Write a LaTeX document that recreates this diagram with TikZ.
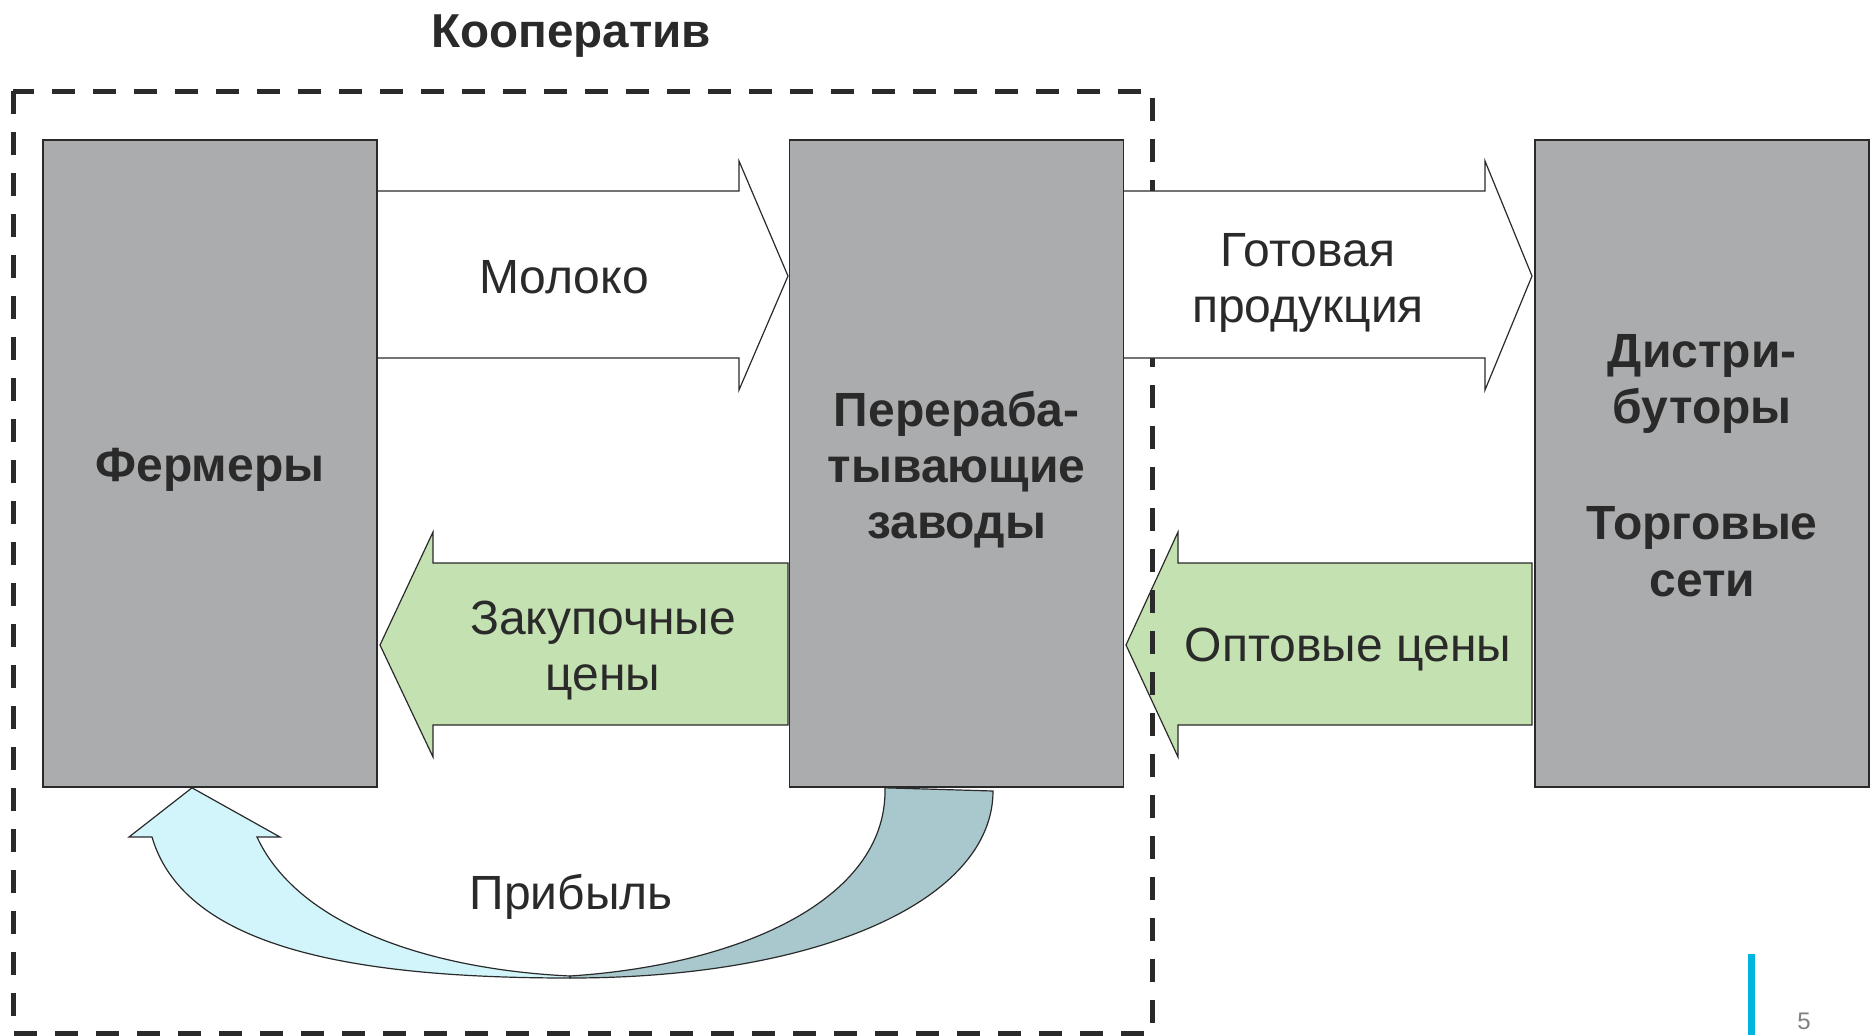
\documentclass[tikz,border=0pt]{standalone}
\usepackage{fontspec}
\setmainfont{Liberation Sans}
\usetikzlibrary{positioning,calc}

\definecolor{boxgray}{HTML}{ABACAE}
\definecolor{pricegreen}{HTML}{C4E1B1}
\definecolor{inkdark}{HTML}{2A2A2A}
\definecolor{profitcyan}{HTML}{D2F5FC}
\definecolor{profitteal}{HTML}{A9C8CD}
\definecolor{barblue}{HTML}{00B4E0}

\begin{document}
\begin{tikzpicture}[x=0.5pt,y=-0.5pt,
	block/.style={draw=inkdark,line width=0.8pt,fill=boxgray,minimum width=167pt,minimum height=323.5pt,inner sep=0pt},
	boxtext/.style={align=center,font=\fontsize{24}{28}\selectfont\bfseries,text=inkdark,yshift=-3pt},
	flow/.style={draw=inkdark,line width=0.6pt},
	lbl/.style={align=center,font=\fontsize{24}{28}\selectfont,text=inkdark},
	coopline/.style={draw=inkdark,line width=2.5pt,dash pattern=on 11.5pt off 9pt}]
	\useasboundingbox (0,0) rectangle (1870,1035);

	% price arrows (under the dashed frame)
	\coordinate (buytip) at (380,645);
	\coordinate (saletip) at (1126,645);
	\draw[flow,fill=pricegreen] (788,563) -- (433,563) -- (433,532) -- (buytip) -- (433,757) -- (433,725) -- (788,725) -- cycle;
	\draw[flow,fill=pricegreen] (1532,563) -- (1178,563) -- (1178,532) -- (saletip) -- (1178,757) -- (1178,725) -- (1532,725) -- cycle;

	% cooperative frame
	\draw[coopline] (13,91) rectangle (1152,1033);
	\node[font=\fontsize{23.8}{28}\selectfont\bfseries,text=inkdark,anchor=base] (coop) at (571,47) {Кооператив};

	% goods arrows
	\coordinate (milktip) at (788,276);
	\coordinate (goodstip) at (1532,276);
	\draw[flow,fill=white] (377,191) -- (739,191) -- (739,161) -- (milktip) -- (739,390) -- (739,358) -- (377,358);
	\draw[flow,fill=white] (1122,191) -- (1485,191) -- (1485,161) -- (goodstip) -- (1485,390) -- (1485,358) -- (1122,358);

	% boxes
	\node[block,label={[boxtext]center:Фермеры}] (farmers) at (210,463.5) {};
	\node[block,label={[boxtext]center:{Перераба-\\тывающие\\заводы}}] (plant) [right=205.5pt of farmers] {};
	\node[block,label={[boxtext,yshift=2pt]center:{Дистри-\\буторы\\[30pt]Торговые\\[0.5pt]сети}}] (retail) [right=205pt of plant] {};

	\node[lbl] (milk) at (564,277) {Молоко};
	\node[lbl] (goods) at (1308,283) {Готовая\\продукция};
	\node[lbl] (buyprice) at (603,651) {Закупочные\\цены};
	\node[lbl] (wholesale) at (1348,650) {Оптовые цены};

	% profit back to the farmers
	\coordinate (profitbase) at (570,976);
	\draw[flow,fill=profitteal] (plant.south -| 885,791) -- (993,791) .. controls (993,900) and (820,978) .. (570,978) -- (profitbase) .. controls (740,965) and (885,900) .. (885,791) -- cycle;
	\draw[flow,fill=profitcyan] (profitbase) .. controls (440,970) and (300,930) .. (257,837) -- (280,837) -- (farmers.south -| 192,790) -- (129,837) -- (152,837) .. controls (185,950) and (360,978) .. (570,978) -- cycle;
	\node[lbl] (profit) at (571,897) {Прибыль};

	% slide number
	\fill[barblue] (1748,954) rectangle (1755,1035);
	\node[font=\fontsize{12}{14}\selectfont,text=gray] (pagenum) at (1804,1021) {5};
\end{tikzpicture}
\end{document}
